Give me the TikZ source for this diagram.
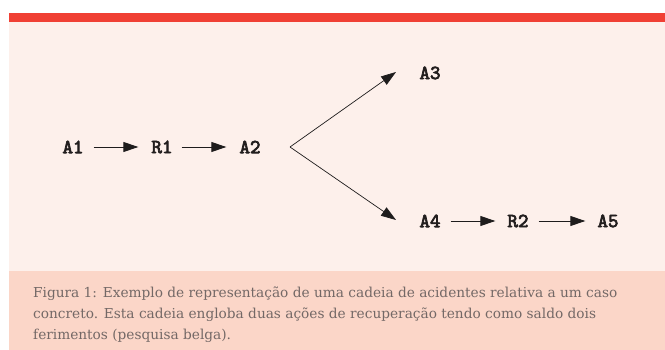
\documentclass[tikz,border=0pt]{standalone}
\usepackage{fontspec}
\setmainfont{DejaVu Serif}
\newfontfamily\evtfont[Extension=.otf,FakeBold=3.5]{lmmono10-regular}
\usetikzlibrary{arrows.meta}
\definecolor{barred}{RGB}{240,64,52}
\definecolor{panelpink}{RGB}{253,240,235}
\definecolor{capbg}{RGB}{251,214,200}
\definecolor{captxt}{RGB}{115,104,102}
\definecolor{nodetxt}{RGB}{34,30,30}
\definecolor{arrowcol}{RGB}{30,28,28}
\tikzset{
  evt/.style={font=\evtfont\fontsize{20}{22}\selectfont, text=nodetxt, inner sep=0pt, anchor=center},
  link/.style={draw=arrowcol, line width=0.9pt, -{Triangle[length=15pt,width=10pt]}},
  branch/.style={draw=arrowcol, line width=0.7pt, -{Triangle[length=15pt,width=10pt]}},
}
\begin{document}
\begin{tikzpicture}[x=1pt,y=-1pt]
\useasboundingbox (0,0) rectangle (665,350);
\fill[panelpink] (9,22) rectangle (665,271);
\fill[barred] (9,13.3) rectangle (665,22);
\fill[capbg] (9,271) rectangle (665,350);

\node[evt] (A1) at (73,147) {A1};
\node[evt] (R1) at (162,147) {R1};
\node[evt] (A2) at (250,147) {A2};
\node[evt] (A3) at (430,73) {A3};
\node[evt] (A4) at (430,221) {A4};
\node[evt] (R2) at (518,221) {R2};
\node[evt] (A5) at (608,221) {A5};
\coordinate (V) at (290,147);
\coordinate (T3) at (396,72);
\coordinate (T4) at (396,220);

\draw[link] ([xshift=10pt]A1.east) -- ([xshift=-13pt]R1.west);
\draw[link] ([xshift=9pt]R1.east) -- ([xshift=-13pt]A2.west);
\draw[branch] (V) -- (T3);
\draw[branch] (V) -- (T4);
\draw[link] ([xshift=10pt]A4.east) -- ([xshift=-12pt]R2.west);
\draw[link] ([xshift=10pt]R2.east) -- ([xshift=-12pt]A5.west);

\node[anchor=north west, text=captxt, font=\fontsize{13.7}{21}\selectfont, align=left, inner sep=0pt] (cap) at (33,287)
{Figura 1: Exemplo de representação de uma cadeia de acidentes relativa a um caso\\
concreto. Esta cadeia engloba duas ações de recuperação tendo como saldo dois\\
ferimentos (pesquisa belga).};
\end{tikzpicture}
\end{document}
